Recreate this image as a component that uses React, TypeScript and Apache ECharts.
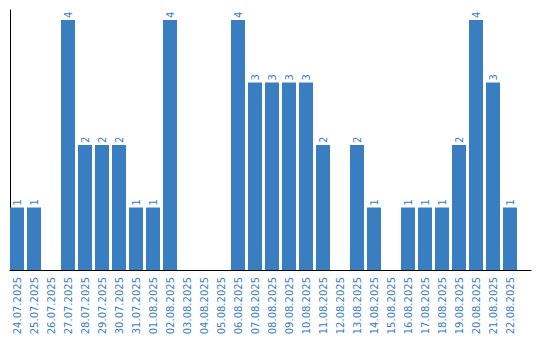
import React, { useEffect, useRef } from "react";
import * as echarts from "echarts";

const dates = [
  "24.07.2025", "25.07.2025", "26.07.2025", "27.07.2025", "28.07.2025",
  "29.07.2025", "30.07.2025", "31.07.2025", "01.08.2025", "02.08.2025",
  "03.08.2025", "04.08.2025", "05.08.2025", "06.08.2025", "07.08.2025",
  "08.08.2025", "09.08.2025", "10.08.2025", "11.08.2025", "12.08.2025",
  "13.08.2025", "14.08.2025", "15.08.2025", "16.08.2025", "17.08.2025",
  "18.08.2025", "19.08.2025", "20.08.2025", "21.08.2025", "22.08.2025",
];

const counts = [
  1, 1, 0, 4, 2, 2, 2, 1, 1, 4,
  0, 0, 0, 4, 3, 3, 3, 3, 2, 0,
  2, 1, 0, 1, 1, 1, 2, 4, 3, 1,
];

const BLUE = "#3a7ec2";
const FONT = "DejaVu Sans";

export default function App() {
  const ref = useRef<HTMLDivElement>(null);

  useEffect(() => {
    document.body.style.margin = "0";
    if (!ref.current) return;
    const chart = echarts.init(ref.current, undefined, { renderer: "svg" });
    chart.setOption({
      animation: false,
      grid: [
        { left: 8.5, top: 10, width: 510, height: 260 },
        { left: 10, top: 10, width: 521, height: 260 },
      ],
      xAxis: [
        {
          type: "category",
          gridIndex: 0,
          data: dates,
          axisLine: { show: false },
          axisTick: { show: false },
          axisLabel: {
            rotate: 90,
            interval: 0,
            margin: 7,
            fontSize: 10,
            fontFamily: FONT,
            color: BLUE,
          },
        },
        {
          type: "value",
          gridIndex: 1,
          min: 0,
          max: 1,
          axisLine: { show: true, lineStyle: { color: "#000", width: 1 } },
          axisTick: { show: false },
          axisLabel: { show: false },
          splitLine: { show: false },
        },
      ],
      yAxis: [
        {
          type: "value",
          gridIndex: 0,
          min: 0,
          max: 4.16,
          show: false,
        },
        {
          type: "value",
          gridIndex: 1,
          min: 0,
          max: 1,
          axisLine: { show: true, lineStyle: { color: "#000", width: 1 } },
          axisTick: { show: false },
          axisLabel: { show: false },
          splitLine: { show: false },
        },
      ],
      series: [
        {
          type: "bar",
          xAxisIndex: 0,
          yAxisIndex: 0,
          data: counts,
          barWidth: 14,
          itemStyle: { color: BLUE },
          label: {
            show: true,
            position: "top",
            rotate: 90,
            align: "left",
            verticalAlign: "middle",
            distance: 2,
            fontSize: 10,
            fontFamily: FONT,
            color: BLUE,
            formatter: (p: any) => (p.value ? String(p.value) : ""),
          },
        },
      ],
    });
    return () => chart.dispose();
  }, []);

  return <div ref={ref} style={{ width: 540, height: 340 }} />;
}
